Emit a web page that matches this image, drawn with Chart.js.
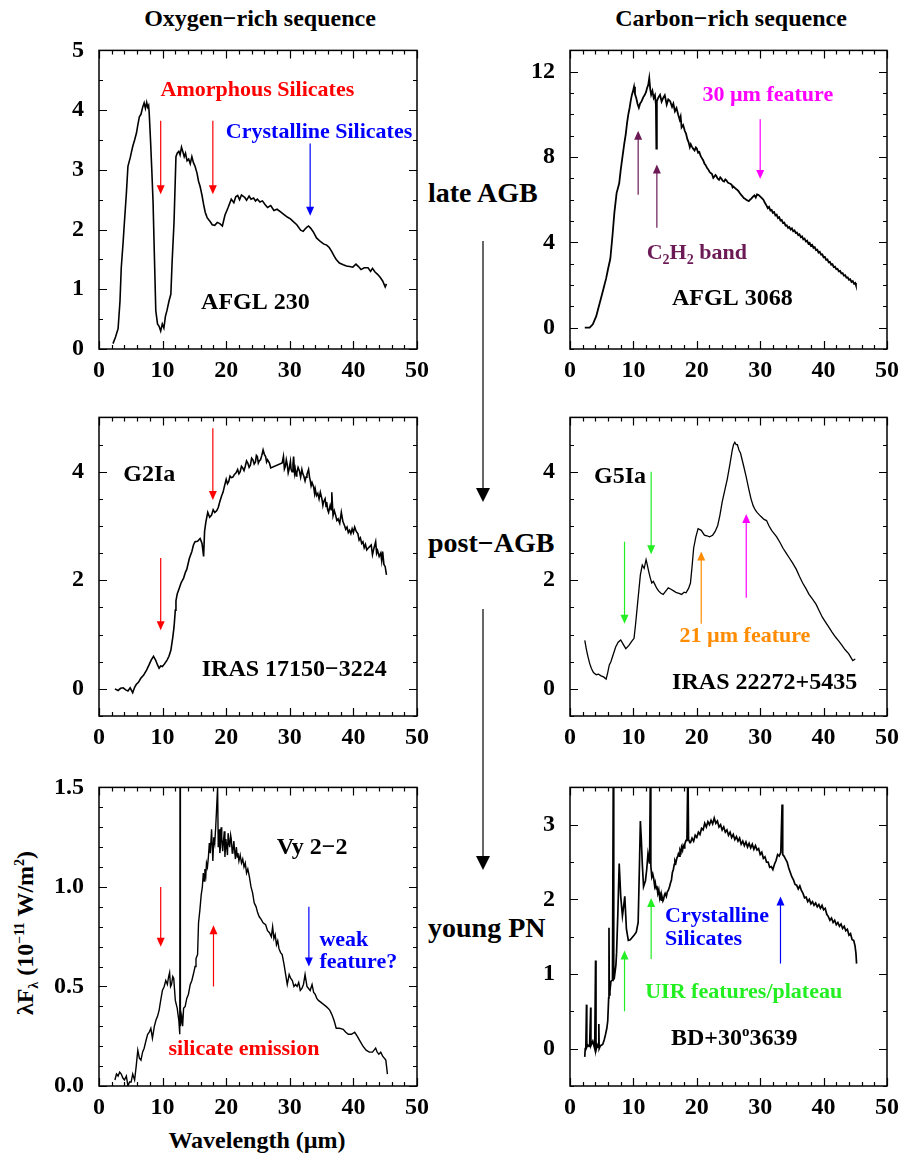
<!DOCTYPE html>
<html>
<head>
<meta charset="utf-8">
<script src="https://cdn.jsdelivr.net/npm/chart.js@4.4.1/dist/chart.umd.min.js"></script>
<style>
  html, body { margin:0; padding:0; background:#fff; }
  body { width:906px; height:1156px; position:relative; overflow:hidden;
         font-family:'Liberation Serif','Times New Roman',serif; font-weight:bold; color:#000; }
  canvas { position:absolute; }
  .lbl { position:absolute; white-space:nowrap; line-height:1; }
</style>
</head>
<body>
<div class="lbl" style="left:260px;top:6px;font-size:24px;transform:translateX(-50%)">Oxygen−rich sequence</div>
<div class="lbl" style="left:731px;top:6px;font-size:24px;transform:translateX(-50%)">Carbon−rich sequence</div>
<div class="lbl" style="left:428px;top:179px;font-size:28px">late AGB</div>
<div class="lbl" style="left:428px;top:529px;font-size:28px">post−AGB</div>
<div class="lbl" style="left:428px;top:914px;font-size:28px">young PN</div>
<div class="lbl" style="left:257px;top:1128px;font-size:24px;transform:translateX(-50%)">Wavelength (µm)</div>
<div class="lbl" style="left:27px;top:933px;font-size:24px;transform:translate(-50%,-50%) rotate(-90deg)">λF<sub style="font-size:14px">λ</sub> (10<sup style="font-size:14px">−11</sup> W/m<sup style="font-size:14px">2</sup>)</div>
<svg width="906" height="1156" style="position:absolute;left:0;top:0;pointer-events:none">
  <line x1="483" y1="241" x2="483" y2="490" stroke="#000" stroke-width="1.2"/>
  <polygon points="476,488 490,488 483,502" fill="#000"/>
  <line x1="483" y1="609" x2="483" y2="858" stroke="#000" stroke-width="1.2"/>
  <polygon points="476,856 490,856 483,870" fill="#000"/>
</svg>

<canvas id="cTL"></canvas>
<canvas id="cTR"></canvas>
<canvas id="cML"></canvas>
<canvas id="cMR"></canvas>
<canvas id="cBL"></canvas>
<canvas id="cBR"></canvas>

<script>
// ---------------- DATA ----------------
const xTickLabels = [0, 10, 20, 30, 40, 50];

const afgl230Ticks = [0, 1, 2, 3, 4, 5];
const afgl230 = [
[2.2,0.09],[2.6,0.2],[3.0,0.34],[3.3,0.8],[3.5,1.36],[3.8,1.8],[4.0,2.13],[4.3,2.6],[4.55,3.06],[4.9,3.2],
[5.3,3.39],[5.6,3.5],[5.9,3.62],[6.1,3.75],[6.35,3.89],[6.6,3.93],[6.87,4.05],[7.1,4.12],[7.3,4.03],[7.5,4.13],
[7.65,4.05],[7.8,4.08],[7.9,3.94],[8.1,3.5],[8.3,3.0],[8.5,2.46],[8.7,1.6],[8.93,0.64],[9.2,0.42],[9.45,0.38],
[9.7,0.3],[9.95,0.42],[10.2,0.35],[10.45,0.55],[10.7,0.65],[11.0,0.8],[11.3,0.92],[11.5,1.47],[11.8,2.13],[12.1,3.22],
[12.3,3.28],[12.55,3.31],[12.75,3.25],[12.97,3.38],[13.2,3.3],[13.4,3.22],[13.6,3.28],[13.85,3.15],[14.1,3.18],[14.35,3.1],
[14.6,3.22],[14.85,3.12],[15.1,3.06],[15.4,2.95],[15.65,2.81],[15.9,2.72],[16.2,2.57],[16.45,2.42],[16.7,2.29],[17.0,2.2],
[17.5,2.13],[17.8,2.08],[18.2,2.07],[18.6,2.12],[19.0,2.1],[19.4,2.06],[19.8,2.24],[20.3,2.37],[20.8,2.51],[21.2,2.45],
[21.5,2.55],[21.8,2.57],[22.1,2.5],[22.4,2.58],[22.9,2.54],[23.2,2.49],[23.6,2.56],[23.9,2.51],[24.3,2.53],[24.6,2.48],
[24.9,2.51],[25.3,2.46],[25.7,2.48],[26.1,2.42],[26.5,2.37],[27.0,2.4],[27.5,2.32],[28.0,2.34],[28.6,2.29],[29.1,2.25],
[29.6,2.21],[30.1,2.18],[30.6,2.13],[31.1,2.08],[31.7,1.99],[32.1,1.97],[32.4,2.01],[32.7,2.04],[32.95,2.06],[33.3,2.02],
[33.7,1.96],[34.2,1.86],[34.8,1.8],[35.3,1.76],[35.8,1.74],[36.2,1.7],[36.6,1.63],[37.0,1.55],[37.3,1.5],[37.8,1.44],
[38.4,1.41],[38.9,1.39],[39.4,1.38],[39.9,1.37],[40.4,1.42],[40.8,1.38],[41.2,1.33],[41.7,1.36],[42.3,1.36],[42.7,1.3],
[43.0,1.35],[43.4,1.29],[43.8,1.25],[44.2,1.2],[44.6,1.14],[45.0,1.04],[45.2,1.09]
];

const afgl3068Ticks = [0, 4, 8, 12];
const afgl3068 = [
[2.33,0.0],[3.1,0.0],[3.6,0.16],[4.14,0.54],[4.5,0.95],[4.9,1.39],[5.3,1.85],[5.7,2.31],[6.0,2.75],[6.36,3.23],
[6.7,4.31],[7.0,5.39],[7.35,6.31],[7.76,6.77],[8.0,7.4],[8.27,8.0],[8.55,8.6],[8.8,9.08],[9.0,9.6],[9.2,10.0],
[9.4,10.3],[9.57,10.62],[9.75,10.9],[9.93,11.08],[10.1,11.3],[10.25,10.95],[10.45,10.77],[10.65,10.5],[10.86,10.31],[11.05,10.5],
[11.3,10.62],[11.55,10.8],[11.8,10.92],[12.0,11.05],[12.15,11.23],[12.35,11.4],[12.5,11.7],[12.65,11.2],[12.8,10.92],[13.0,11.1],
[13.2,10.77],[13.4,10.9],[13.55,10.46],[13.62,8.39],[13.7,10.62],[13.95,10.8],[14.2,10.92],[14.45,10.6],[14.7,10.77],[14.95,10.9],
[15.25,10.46],[15.5,10.7],[15.8,10.62],[16.1,10.35],[16.3,10.5],[16.55,10.15],[16.8,10.3],[17.05,10.0],[17.3,9.75],[17.45,9.9],
[17.6,9.39],[17.85,9.5],[18.1,9.23],[18.3,9.1],[18.5,8.85],[18.7,8.7],[18.9,8.46],[19.05,8.6],[19.2,8.5],[19.45,8.38],
[19.65,8.31],[19.85,8.45],[20.0,8.4],[20.2,8.2],[20.4,8.23],[20.6,8.05],[20.8,7.95],[21.0,7.85],[21.2,7.7],[21.4,7.62],
[21.6,7.5],[21.8,7.42],[22.0,7.31],[22.2,7.25],[22.4,7.2],[22.6,7.02],[22.75,7.08],[22.95,7.16],[23.1,7.1],[23.3,6.98],
[23.5,6.93],[23.7,7.05],[23.9,6.98],[24.1,6.88],[24.3,6.85],[24.5,6.95],[24.7,6.9],[24.9,6.8],[25.1,6.77],[25.3,6.75],
[25.5,6.7],[25.65,6.58],[25.8,6.62],[26.0,6.55],[26.2,6.5],[26.4,6.46],[26.6,6.39],[26.8,6.3],[27.0,6.22],[27.2,6.16],
[27.4,6.08],[27.6,6.04],[27.8,6.0],[28.0,5.96],[28.2,5.93],[28.4,6.0],[28.6,6.05],[28.8,6.12],[28.95,6.16],[29.1,6.2],
[29.3,6.1],[29.5,6.25],[29.7,6.23],[29.9,6.18],[30.1,6.12],[30.3,6.06],[30.5,6.0],[30.7,5.88],[30.85,5.8],
[31.0,5.72],[31.2,5.6],[31.4,5.66],[31.6,5.5],[31.8,5.52],[32.0,5.38],[32.2,5.42],[32.4,5.26],[32.6,5.3],[32.8,5.14],
[33.0,5.18],[33.2,5.02],[33.4,5.05],[33.6,4.9],[33.8,4.92],[34.0,4.78],[34.2,4.8],[34.4,4.68],[34.6,4.72],[34.8,4.6],
[35.0,4.66],[35.2,4.52],[35.4,4.56],[35.6,4.44],[35.8,4.46],[36.0,4.34],[36.2,4.38],[36.4,4.24],[36.6,4.28],[36.8,4.14],
[37.0,4.18],[37.2,4.04],[37.4,4.08],[37.6,3.94],[37.8,3.98],[38.0,3.84],[38.2,3.88],[38.4,3.74],[38.6,3.78],[38.8,3.64],
[39.0,3.66],[39.2,3.52],[39.4,3.56],[39.6,3.42],[39.8,3.44],[40.0,3.3],[40.2,3.32],[40.4,3.18],[40.6,3.2],[40.8,3.06],
[41.0,3.08],[41.2,2.95],[41.4,2.98],[41.6,2.84],[41.8,2.86],[42.0,2.74],[42.2,2.76],[42.4,2.64],[42.6,2.66],[42.8,2.54],
[43.0,2.56],[43.2,2.44],[43.4,2.46],[43.6,2.34],[43.8,2.36],[44.0,2.24],[44.2,2.27],[44.4,2.14],[44.6,2.18],[44.8,2.06],
[45.0,2.1],[45.1,2.0]
];

const iras17150Ticks = [0, 2, 4];
const iras17150 = [
[2.5,0.0],[3.0,-0.03],[3.4,0.01],[3.8,0.02],[4.2,-0.02],[4.55,-0.04],[4.9,0.02],[5.3,-0.07],[5.6,0.03],[5.85,0.08],
[6.2,0.12],[6.6,0.2],[7.0,0.25],[7.5,0.35],[7.9,0.45],[8.2,0.53],[8.57,0.6],[8.9,0.53],[9.2,0.44],[9.45,0.38],
[9.7,0.42],[9.97,0.41],[10.3,0.46],[10.7,0.53],[11.0,0.6],[11.3,0.71],[11.6,0.95],[11.8,1.14],[12.0,1.45],[12.1,1.62],
[12.3,1.75],[12.55,1.83],[12.9,1.95],[13.3,2.04],[13.6,2.15],[13.8,2.2],[14.2,2.4],[14.6,2.53],[14.85,2.65],[15.1,2.71],
[15.5,2.72],[15.9,2.77],[16.2,2.68],[16.45,2.44],[16.6,2.9],[16.8,3.07],[17.1,3.25],[17.4,3.16],[17.7,3.2],[17.95,3.3],
[18.2,3.25],[18.5,3.28],[18.75,3.34],[19.0,3.45],[19.3,3.56],[19.5,3.62],[19.7,3.72],[20.0,3.86],[20.2,3.78],[20.4,3.82],
[20.6,3.92],[20.8,3.89],[21.05,3.9],[21.3,3.95],[21.55,3.98],[21.8,4.04],[22.0,3.96],[22.2,4.0],[22.4,4.1],[22.6,4.07],
[22.8,4.02],[23.0,4.1],[23.2,4.2],[23.4,4.16],[23.6,4.08],[23.8,4.12],[24.0,4.25],[24.2,4.22],[24.4,4.14],[24.6,4.18],
[24.75,4.3],[24.9,4.28],[25.05,4.16],[25.2,4.2],[25.4,4.22],[25.6,4.3],[25.8,4.4],[26.0,4.32],[26.2,4.28],[26.35,4.18],
[26.5,4.22],[26.8,4.16],[27.0,4.07],[28.8,4.16],[29.0,4.28],[29.15,4.05],[29.3,4.1],[29.45,4.22],[29.6,4.13],[29.75,3.98],
[29.9,4.05],[30.1,4.19],[30.2,4.05],[30.35,4.0],[30.5,4.14],[30.6,4.28],[30.75,3.98],[30.85,4.05],[31.0,3.92],[31.1,3.98],
[31.3,4.08],[31.5,4.02],[31.7,3.9],[31.9,4.04],[32.05,3.96],[32.2,3.92],[32.4,3.83],[32.55,3.9],[32.7,3.95],[32.95,4.04],
[33.1,3.9],[33.2,3.85],[33.35,3.74],[33.5,3.8],[33.75,3.72],[33.9,3.6],[34.0,3.68],[34.2,3.56],[34.4,3.6],[34.6,3.5],
[34.8,3.62],[35.05,3.5],[35.2,3.38],[35.3,3.44],[35.55,3.5],[35.7,3.36],[35.8,3.44],[35.95,3.3],[36.1,3.25],[36.35,3.38],
[36.5,3.3],[36.6,3.62],[36.8,3.19],[37.0,3.28],[37.2,3.2],[37.4,3.1],[37.6,3.13],[37.85,3.05],[38.1,3.25],[38.35,3.08],
[38.6,3.01],[38.8,2.94],[39.0,2.98],[39.2,2.88],[39.4,2.92],[39.6,2.86],[39.8,2.95],[40.0,2.88],[40.2,2.98],[40.45,2.9],
[40.7,2.86],[40.9,2.74],[41.1,2.78],[41.3,2.68],[41.5,2.71],[41.7,2.6],[41.9,2.66],[42.1,2.56],[42.3,2.59],[42.55,2.62],
[42.8,2.65],[43.0,2.47],[43.25,2.6],[43.5,2.71],[43.65,2.5],[43.8,2.55],[44.05,2.44],[44.3,2.5],[44.45,2.36],[44.6,2.53],
[44.8,2.29],[45.0,2.25],[45.2,2.1]
];

const iras22272Ticks = [0, 2, 4];
const iras22272 = [
[2.33,0.895],[2.6,0.72],[2.84,0.59],[3.1,0.47],[3.36,0.38],[3.7,0.3],[4.14,0.26],[4.5,0.27],[4.9,0.24],[5.3,0.22],
[5.7,0.18],[5.95,0.3],[6.2,0.44],[6.45,0.5],[6.7,0.59],[6.95,0.68],[7.2,0.77],[7.6,0.86],[8.0,0.9],[8.4,0.82],
[8.8,0.74],[9.3,0.8],[9.7,0.87],[10.1,0.93],[10.35,1.2],[10.6,1.5],[10.85,1.8],[11.1,2.1],[11.4,2.28],[11.7,2.22],
[12.0,2.38],[12.2,2.28],[12.4,2.17],[12.65,2.05],[12.9,1.95],[13.15,1.98],[13.4,1.92],[13.7,1.85],[14.0,1.8],[14.35,1.76],
[14.7,1.74],[15.1,1.8],[15.5,1.86],[16.0,1.83],[16.4,1.8],[16.8,1.77],[17.2,1.76],[17.6,1.74],[18.0,1.78],[18.3,1.77],
[18.7,1.85],[19.0,1.95],[19.25,2.25],[19.5,2.59],[19.85,2.8],[20.2,2.95],[20.7,2.92],[21.2,2.83],[21.6,2.82],[22.0,2.8],
[22.5,2.83],[22.9,2.9],[23.3,3.01],[23.65,3.2],[24.0,3.44],[24.4,3.65],[24.8,3.86],[25.2,4.12],[25.6,4.4],[25.8,4.5],
[26.0,4.54],[26.2,4.5],[26.4,4.5],[26.65,4.4],[26.9,4.34],[27.15,4.22],[27.4,4.1],[27.8,3.9],[28.2,3.68],[28.55,3.5],
[28.9,3.37],[29.2,3.3],[29.5,3.25],[29.9,3.2],[30.25,3.16],[30.6,3.12],[31.0,3.1],[31.4,3.0],[31.8,2.92],[32.2,2.86],
[32.6,2.8],[33.1,2.7],[33.6,2.59],[34.1,2.5],[34.6,2.41],[35.1,2.32],[35.7,2.2],[36.2,2.07],[36.7,1.95],[37.2,1.85],
[37.7,1.74],[38.2,1.66],[38.8,1.56],[39.3,1.44],[39.8,1.32],[40.3,1.23],[40.8,1.14],[41.3,1.05],[41.9,0.95],[42.4,0.88],
[42.9,0.8],[43.4,0.72],[43.95,0.65],[44.3,0.58],[44.6,0.52],[45.0,0.55]
];

const vy22Ticks = [0, 0.5, 1.0, 1.5];
const vy22 = [
[2.5,0.03],[2.75,0.06],[3.0,0.05],[3.25,0.07],[3.5,0.06],[3.75,0.04],[4.0,0.03],[4.3,0.05],[4.55,0.0],[4.8,0.02],
[5.05,0.02],[5.3,0.06],[5.6,0.03],[5.85,0.1],[6.1,0.18],[6.35,0.14],[6.6,0.13],[6.85,0.17],[7.1,0.19],[7.4,0.23],
[7.65,0.26],[7.9,0.27],[8.15,0.29],[8.4,0.24],[8.7,0.3],[8.95,0.33],[9.2,0.35],[9.45,0.38],[9.7,0.43],[9.97,0.48],
[10.25,0.5],[10.5,0.53],[10.75,0.51],[10.95,0.55],[11.1,0.57],[11.25,0.5],[11.4,0.51],[11.6,0.55],[11.75,0.54],[12.0,0.43],
[12.3,0.39],[12.55,0.33],[12.7,0.26],[12.75,2.0],[12.8,0.3],[13.0,0.35],[13.15,0.3],[13.3,0.39],[13.55,0.4],[13.8,0.44],
[14.05,0.46],[14.35,0.51],[14.6,0.53],[14.9,0.57],[15.1,0.6],[15.25,0.64],[15.5,0.66],[15.65,0.82],[15.85,0.88],[16.07,0.96],
[16.25,1.0],[16.4,1.07],[16.55,1.03],[16.65,1.09],[16.8,1.06],[16.9,1.12],[17.05,1.1],[17.2,1.15],[17.35,1.22],[17.5,1.17],
[17.7,1.29],[17.9,1.13],[18.05,1.25],[18.2,1.22],[18.35,1.3],[18.5,1.4],[18.65,1.5],[18.75,1.2],[18.9,1.29],[19.0,1.17],
[19.1,1.2],[19.2,1.3],[19.3,1.25],[19.45,1.18],[19.55,1.22],[19.7,1.28],[19.8,1.15],[19.95,1.24],[20.05,1.21],[20.2,1.16],
[20.3,1.27],[20.45,1.22],[20.55,1.2],[20.7,1.26],[20.8,1.24],[20.95,1.17],[21.05,1.18],[21.2,1.23],[21.3,1.19],[21.45,1.14],
[21.6,1.2],[21.75,1.15],[21.85,1.17],[22.0,1.13],[22.2,1.16],[22.4,1.12],[22.6,1.14],[22.8,1.1],[23.0,1.12],[23.2,1.07],
[23.4,1.09],[23.65,1.05],[23.9,1.0],[24.15,0.97],[24.4,0.92],[24.7,0.9],[24.95,0.87],[25.2,0.85],[25.45,0.84],[25.8,0.82],
[26.2,0.81],[26.5,0.78],[26.8,0.77],[27.1,0.75],[27.3,0.8],[27.5,0.74],[27.7,0.76],[27.9,0.71],[28.1,0.73],[28.3,0.69],
[28.55,0.67],[28.8,0.66],[29.1,0.61],[29.35,0.56],[29.6,0.51],[29.9,0.56],[30.15,0.54],[30.4,0.53],[30.65,0.5],[30.9,0.51],
[31.15,0.5],[31.4,0.52],[31.65,0.48],[31.9,0.49],[32.15,0.51],[32.4,0.56],[32.7,0.5],[32.95,0.49],[33.2,0.48],[33.5,0.51],
[33.75,0.47],[34.0,0.46],[34.25,0.44],[34.5,0.43],[34.9,0.42],[35.3,0.41],[35.7,0.4],[36.05,0.39],[36.3,0.38],[36.6,0.36],
[36.95,0.33],[37.3,0.29],[37.8,0.29],[38.4,0.285],[38.8,0.27],[39.2,0.26],[39.7,0.26],[40.2,0.27],[40.6,0.25],[40.95,0.23],
[41.5,0.2],[42.0,0.18],[42.5,0.17],[43.0,0.17],[43.25,0.18],[43.5,0.19],[43.75,0.17],[44.0,0.16],[44.3,0.17],[44.6,0.15],
[45.1,0.13],[45.35,0.06]
];

const bd303639Ticks = [0, 1, 2, 3];
const bd303639 = [
[2.33,-0.11],[2.4,0.0],[2.5,0.03],[2.6,0.59],[2.65,0.02],[2.8,0.05],[3.0,0.03],[3.1,0.06],[3.26,0.55],[3.3,0.04],
[3.45,0.07],[3.6,0.1],[3.75,0.05],[3.9,0.0],[4.03,1.18],[4.1,-0.02],[4.3,0.05],[4.45,0.02],[4.55,0.33],[4.6,0.0],
[4.8,0.04],[5.0,0.05],[5.17,0.06],[5.4,0.12],[5.6,0.19],[5.8,0.27],[5.95,0.37],[6.1,0.68],[6.15,1.62],[6.2,0.72],
[6.3,0.77],[6.45,0.9],[6.7,0.92],[6.83,3.8],[6.9,0.93],[6.98,0.94],[7.24,1.12],[7.35,1.29],[7.55,1.82],[7.76,2.48],
[8.0,2.04],[8.27,1.78],[8.45,1.9],[8.64,2.04],[8.9,1.6],[9.2,1.45],[9.5,1.46],[9.8,1.49],[10.1,1.52],[10.45,1.56],
[10.75,1.69],[10.96,2.48],[11.1,3.05],[11.25,2.8],[11.4,2.48],[11.6,2.17],[11.9,2.25],[12.1,2.4],[12.3,2.61],[12.55,2.48],
[12.7,3.9],[12.75,2.45],[12.9,2.3],[13.05,2.34],[13.2,2.28],[13.35,2.18],[13.45,2.22],[13.6,2.14],[13.7,2.18],[13.85,2.08],
[14.0,2.13],[14.15,2.02],[14.25,2.06],[14.4,1.99],[14.5,2.04],[14.65,1.98],[14.75,2.0],[14.9,2.06],[15.0,2.08],[15.2,2.04],
[15.35,2.1],[15.5,2.12],[15.7,2.17],[15.85,2.22],[16.0,2.26],[16.15,2.36],[16.3,2.4],[16.45,2.47],[16.55,2.52],[16.7,2.49],
[16.85,2.55],[17.0,2.58],[17.1,2.61],[17.25,2.58],[17.35,2.66],[17.5,2.63],[17.6,2.7],[17.75,2.66],[17.85,2.72],[18.0,2.69],
[18.1,2.74],[18.3,2.79],[18.45,2.83],[18.6,3.8],[18.7,2.8],[18.9,2.76],
[19.0,2.76],[19.25,2.82],[19.5,2.78],[19.75,2.86],[20.0,2.83],[20.25,2.9],[20.5,2.87],[20.75,2.95],[21.0,2.93],[21.25,3.02],
[21.5,2.97],[21.75,3.04],[22.0,3.0],[22.25,3.06],[22.5,3.01],[22.75,3.09],[23.0,3.02],[23.25,3.05],[23.5,2.97],[23.75,3.0],
[24.0,2.93],[24.25,2.97],[24.5,2.9],[24.75,2.93],[25.0,2.86],[25.25,2.9],[25.5,2.83],[25.75,2.87],[26.0,2.8],[26.25,2.84],
[26.5,2.78],[26.75,2.82],[27.0,2.74],[27.25,2.78],[27.5,2.72],[27.75,2.77],[28.0,2.7],[28.25,2.75],[28.5,2.69],[28.75,2.74],
[29.0,2.67],[29.25,2.72],[29.5,2.66],[29.75,2.68],[30.0,2.6],[30.25,2.63],[30.5,2.55],[30.75,2.57],[31.0,2.5],[31.25,2.5],
[31.5,2.43],[31.75,2.44],[32.0,2.4],[32.25,2.47],[32.5,2.52],[32.75,2.6],[33.0,2.58],[33.25,2.63],[33.45,3.27],[33.55,2.6],
[33.75,2.58],[34.0,2.54],[34.25,2.5],[34.5,2.42],[34.75,2.36],[35.0,2.3],[35.25,2.26],[35.5,2.2],[35.75,2.19],[36.0,2.14],
[36.25,2.18],[36.5,2.12],[36.75,2.08],[37.0,2.02],[37.25,2.03],[37.5,1.97],[37.75,2.0],[38.0,1.94],[38.25,1.97],[38.5,1.92],
[38.75,1.95],[39.0,1.9],[39.25,1.93],[39.5,1.88],[39.75,1.92],[40.0,1.86],[40.25,1.88],[40.5,1.8],[40.75,1.77],[41.0,1.72],
[41.25,1.75],[41.5,1.69],[41.75,1.72],[42.0,1.66],[42.25,1.69],[42.5,1.64],[42.75,1.67],[43.0,1.61],[43.25,1.64],[43.5,1.58],
[43.75,1.6],[44.0,1.52],[44.25,1.54],[44.5,1.46],[44.75,1.45],[44.95,1.38],[45.1,1.28],[45.2,1.14]
];

// ---------------- STYLE / LAYOUT ----------------
const FONT = "'Liberation Serif','Times New Roman',serif";
const RED = '#FF0000', BLUE = '#0000FF', MAG = '#FF00FF', PURP = '#6B1A55', GRN = '#22EE22', ORG = '#FF8C00';

const panels = [
  { id:'cTL', L:99,  T:46,  W:323, H:303, ymin:0,    ymax:5,   yTicks:afgl230Ticks,  yMinor:0.5, data:afgl230, lw:1.6,
    arrows:[[9.7,3.82,2.59,RED],[17.9,3.82,2.59,RED],[33.2,3.44,2.23,BLUE]],
    texts:[ {x:24.9,y:4.35,c:RED,s:22,t:[['Amorphous Silicates']]},
            {x:34.6,y:3.66,c:BLUE,s:22,t:[['Crystalline Silicates']]},
            {x:24.6,y:0.81,c:'#000',s:24,t:[['AFGL 230']]} ] },
  { id:'cTR', L:570, T:46,  W:322, H:303, ymin:-1,   ymax:13,  yTicks:afgl3068Ticks, yMinor:1, data:afgl3068, lw:1.8,
    arrows:[[30.0,9.77,6.97,MAG],[10.75,6.23,9.23,PURP],[13.7,4.69,7.65,PURP]],
    texts:[ {x:31.2,y:10.97,c:MAG,s:22,t:[['30 µm feature']]},
            {x:20.0,y:3.54,c:PURP,s:22,t:[['C'],['2',1],['H'],['2',1],[' band']]},
            {x:25.6,y:1.42,c:'#000',s:24,t:[['AFGL 3068']]} ] },
  { id:'cML', L:99,  T:413, W:323, H:303, ymin:-0.5, ymax:5,   yTicks:iras17150Ticks, yMinor:0.5, data:iras17150, lw:1.6,
    arrows:[[9.7,2.41,1.08,RED],[17.9,4.8,3.48,RED]],
    texts:[ {x:7.9,y:3.98,c:'#000',s:24,t:[['G2Ia']]},
            {x:30.7,y:0.39,c:'#000',s:24,t:[['IRAS 17150−3224']]} ] },
  { id:'cMR', L:570, T:413, W:322, H:303, ymin:-0.5, ymax:5,   yTicks:iras22272Ticks, yMinor:0.5, data:iras22272, lw:1.3,
    arrows:[[8.6,2.71,1.2,GRN],[12.8,4.0,2.48,GRN],[20.7,1.2,2.53,ORG],[27.8,1.68,3.22,MAG]],
    texts:[ {x:7.9,y:3.93,c:'#000',s:24,t:[['G5Ia']]},
            {x:27.6,y:0.99,c:ORG,s:22,t:[['21 µm feature']]},
            {x:30.7,y:0.15,c:'#000',s:24,t:[['IRAS 22272+5435']]} ] },
  { id:'cBL', L:99,  T:783, W:323, H:303, ymin:0,    ymax:1.5, yTicks:vy22Ticks, yMinor:0.1, data:vy22, lw:1.4, fix:1,
    arrows:[[9.7,1.0,0.70,RED],[18.0,0.5,0.807,RED],[33.0,0.9,0.6,BLUE]],
    texts:[ {x:33.5,y:1.206,c:'#000',s:24,t:[['Vy 2−2']]},
            {x:34.66,y:0.74,c:BLUE,s:22,a:'left',t:[['weak']]},
            {x:34.66,y:0.628,c:BLUE,s:22,a:'left',t:[['feature?']]},
            {x:22.8,y:0.194,c:RED,s:22,t:[['silicate emission']]} ] },
  { id:'cBR', L:570, T:783, W:322, H:303, ymin:-0.5, ymax:3.5, yTicks:bd303639Ticks, yMinor:0.5, data:bd303639, lw:1.7,
    arrows:[[8.6,0.5,1.315,GRN],[12.8,1.2,2.02,GRN],[33.2,1.14,2.04,BLUE]],
    texts:[ {x:15.0,y:1.80,c:BLUE,s:22,a:'left',t:[['Crystalline']]},
            {x:15.0,y:1.49,c:BLUE,s:22,a:'left',t:[['Silicates']]},
            {x:27.4,y:0.77,c:GRN,s:22,t:[['UIR features/plateau']]},
            {x:25.9,y:0.16,c:'#000',s:24,t:[['BD+30'],['o',2],['3639']]} ] }
];

const PAD_L = 70, PAD_T = 25, PAD_R = 14, PAD_B = 45;

function drawRich(ctx, segs, x, y, size, color, align) {
  const parts = segs.map(([txt, mode]) => {
    const fs = mode ? Math.round(size * 0.62) : size;
    ctx.font = 'bold ' + fs + 'px ' + FONT;
    return { txt, mode, fs, w: ctx.measureText(txt).width };
  });
  const total = parts.reduce((s, p) => s + p.w, 0);
  let cx = align === 'left' ? x : x - total / 2;
  const base = y + size * 0.33;
  ctx.fillStyle = color; ctx.textAlign = 'left'; ctx.textBaseline = 'alphabetic';
  for (const p of parts) {
    ctx.font = 'bold ' + p.fs + 'px ' + FONT;
    const dy = p.mode === 1 ? size * 0.22 : (p.mode === 2 ? -size * 0.38 : 0);
    ctx.fillText(p.txt, cx, base + dy);
    cx += p.w;
  }
}

const decoPlugin = {
  id: 'deco',
  afterDatasetsDraw(chart) {
    const cfg = chart.options.plugins.deco;
    const { ctx, chartArea: a, scales: { x, y } } = chart;
    ctx.save();
    ctx.strokeStyle = '#000'; ctx.lineWidth = 1.5;
    ctx.strokeRect(a.left, a.top, a.right - a.left, a.bottom - a.top);
    ctx.lineWidth = 1.2;
    ctx.beginPath();
    for (let v = 0; v <= 50.001; v += 2) {
      const px = Math.round(x.getPixelForValue(v)) + 0.5;
      const len = (Math.abs(v % 10) < 1e-6) ? 8 : 4;
      ctx.moveTo(px, a.bottom); ctx.lineTo(px, a.bottom - len);
      ctx.moveTo(px, a.top); ctx.lineTo(px, a.top + len);
    }
    const st = cfg.yMinor;
    for (let k = Math.ceil(cfg.ymin / st - 1e-9); k * st <= cfg.ymax + 1e-9; k++) {
      const v = k * st;
      const py = Math.round(y.getPixelForValue(v)) + 0.5;
      const major = cfg.yTicks.some(t => Math.abs(t - v) < 1e-6);
      const len = major ? 8 : 4;
      ctx.moveTo(a.left, py); ctx.lineTo(a.left + len, py);
      ctx.moveTo(a.right, py); ctx.lineTo(a.right - len, py);
    }
    ctx.stroke();
    for (const [ax, y0, y1, col] of cfg.arrows) {
      const px = x.getPixelForValue(ax);
      const p0 = y.getPixelForValue(y0), p1 = y.getPixelForValue(y1);
      const dir = p1 > p0 ? 1 : -1;
      ctx.strokeStyle = col; ctx.fillStyle = col; ctx.lineWidth = 1.2;
      ctx.beginPath(); ctx.moveTo(px, p0); ctx.lineTo(px, p1 - dir * 8); ctx.stroke();
      ctx.beginPath(); ctx.moveTo(px - 4, p1 - dir * 9); ctx.lineTo(px + 4, p1 - dir * 9); ctx.lineTo(px, p1); ctx.closePath(); ctx.fill();
    }
    for (const t of cfg.texts) {
      drawRich(ctx, t.t, x.getPixelForValue(t.x), y.getPixelForValue(t.y), t.s, t.c, t.a || 'center');
    }
    ctx.restore();
  }
};

for (const p of panels) {
  const cv = document.getElementById(p.id);
  const w = p.W + PAD_L + PAD_R, h = p.H + PAD_T + PAD_B;
  cv.width = w; cv.height = h;
  cv.style.left = (p.L - PAD_L) + 'px'; cv.style.top = (p.T - PAD_T) + 'px';
  cv.style.width = w + 'px'; cv.style.height = h + 'px';
  new Chart(cv, {
    type: 'line',
    data: { datasets: [{ data: p.data.map(([a, b]) => ({ x: a, y: b })), borderColor: '#000', borderWidth: p.lw,
                         pointRadius: 0, tension: 0, fill: false }] },
    options: {
      responsive: false, animation: false, devicePixelRatio: 1,
      layout: { padding: { left: 0, top: PAD_T, right: PAD_R, bottom: 0 } },
      plugins: { legend: { display: false }, tooltip: { enabled: false },
                 deco: { ymin: p.ymin, ymax: p.ymax, yTicks: p.yTicks, yMinor: p.yMinor, arrows: p.arrows, texts: p.texts } },
      scales: {
        x: { type: 'linear', min: 0, max: 50,
             afterBuildTicks: s => { s.ticks = xTickLabels.map(v => ({ value: v })); },
             afterFit: s => { s.height = PAD_B; },
             grid: { display: false, drawTicks: false }, border: { display: false },
             ticks: { color: '#000', padding: 7, maxRotation: 0, autoSkip: false,
                      font: { family: FONT, size: 24, weight: 'bold' } } },
        y: { type: 'linear', min: p.ymin, max: p.ymax,
             afterBuildTicks: s => { s.ticks = p.yTicks.map(v => ({ value: v })); },
             afterFit: s => { s.width = PAD_L; },
             grid: { display: false, drawTicks: false }, border: { display: false },
             ticks: { color: '#000', padding: 15, autoSkip: false,
                      callback: v => p.fix ? Number(v).toFixed(1) : String(v),
                      font: { family: FONT, size: 24, weight: 'bold' } } }
      }
    },
    plugins: [decoPlugin]
  });
}
</script>
</body>
</html>
